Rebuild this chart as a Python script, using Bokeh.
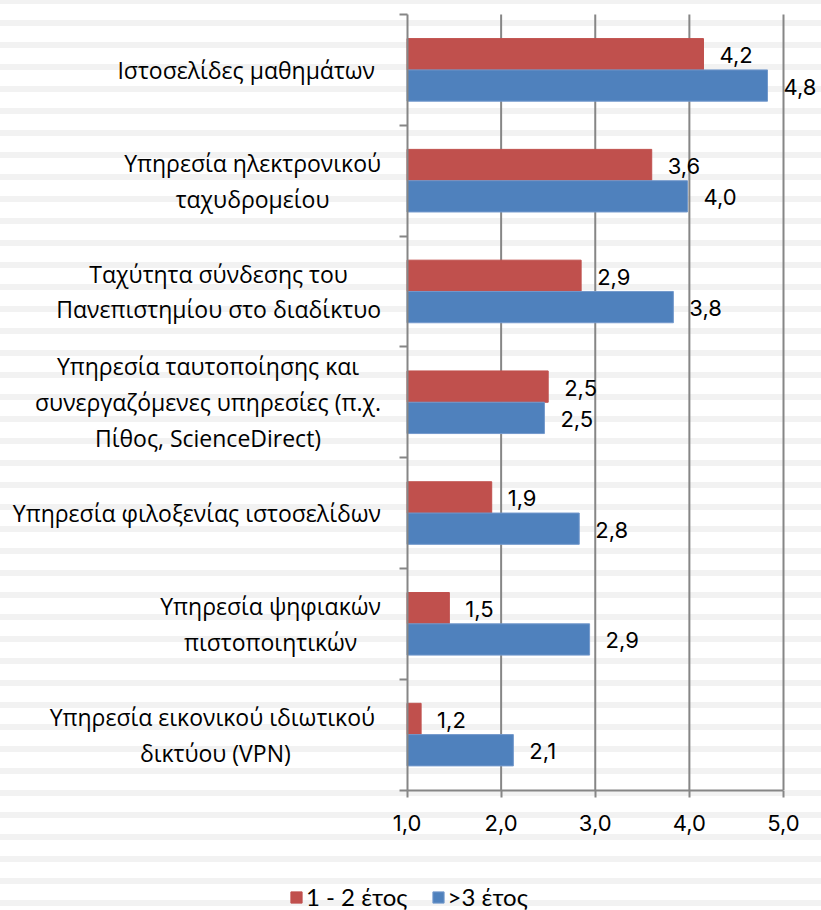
from decimal import Decimal, ROUND_HALF_UP

from bokeh.plotting import figure
from bokeh.models import (Range1d, FixedTicker, LabelSet, Label, ColumnDataSource,
                          Legend, LegendItem)
from bokeh.core.properties import value
from bokeh.transform import dodge
from bokeh.embed import file_html
from bokeh.resources import INLINE

# ---------------- data ----------------
categories = [
    "Ιστοσελίδες μαθημάτων ",
    "Υπηρεσία ηλεκτρονικού\nταχυδρομείου",
    "Ταχύτητα σύνδεσης του\nΠανεπιστημίου στο διαδίκτυο",
    "Υπηρεσία ταυτοποίησης και\nσυνεργαζόμενες υπηρεσίες (π.χ.\nΠίθος, ScienceDirect)",
    "Υπηρεσία φιλοξενίας ιστοσελίδων",
    "Υπηρεσία ψηφιακών\nπιστοποιητικών",
    "Υπηρεσία εικονικού ιδιωτικού \nδικτύου (VPN)",
]
series_names = ["1 - 2 έτος", ">3 έτος"]
values_1_2 = [4.15, 3.60, 2.85, 2.50, 1.90, 1.45, 1.15]
values_3 = [4.83, 3.98, 3.83, 2.46, 2.83, 2.94, 2.13]
x_ticks = [1, 2, 3, 4, 5]
x_tick_labels = ["1,0", "2,0", "3,0", "4,0", "5,0"]
colors = ["#c0504d", "#4f81bd"]


def fmt(v):
    return str(Decimal(str(v)).quantize(Decimal("0.1"), rounding=ROUND_HALF_UP)).replace(".", ",")


n = len(categories)
positions = list(range(1, n + 1))
source = ColumnDataSource(dict(
    pos=positions,
    v1=values_1_2,
    v2=values_3,
    t1=[fmt(v) for v in values_1_2],
    t2=[fmt(v) for v in values_3],
))

LABEL_FONT = "Open Sans"
NUM_FONT = "Inter"
GRAY = "#868686"

W, H = 821, 910
# pixel layout of the value axis / category band inside the canvas
X_LEFT_PX, X_RIGHT_PX = 406.5, 783.0
Y_TOP_PX, Y_BOT_PX = 14.0, 789.5
x_min, x_max = x_ticks[0], x_ticks[-1]
ppx = (X_RIGHT_PX - X_LEFT_PX) / (x_max - x_min)
ppy = (Y_BOT_PX - Y_TOP_PX) / n
x_range = Range1d(x_min - X_LEFT_PX / ppx, x_max + (W - X_RIGHT_PX) / ppx)
y_range = Range1d(n + 0.5 + (H - Y_BOT_PX) / ppy, 0.5 - Y_TOP_PX / ppy)

p = figure(
    width=W, height=H, x_range=x_range, y_range=y_range,
    output_backend="svg", toolbar_location=None,
    min_border=0, min_border_left=0, min_border_right=0,
    min_border_top=0, min_border_bottom=0,
)
p.styles = {
    "background-image": "repeating-linear-gradient(180deg, #f2f2f2 0px, #f2f2f2 4px, "
                        "#ffffff 4px, #ffffff 20px, #f2f2f2 20px, #f2f2f2 22px)",
}
p.background_fill_color = None
p.border_fill_color = None
p.outline_line_color = None
p.xgrid.grid_line_color = None
p.ygrid.grid_line_color = None

# vertical grid lines at the value ticks, spanning the category band
p.segment(x0=x_ticks[1:], x1=x_ticks[1:], y0=0.5, y1=n + 0.5,
          line_color=GRAY, line_width=2)

bar_h = 0.2825
half = bar_h / 2
r1 = p.hbar(y=dodge("pos", -half, range=p.y_range), left=x_min, right="v1", height=bar_h,
            source=source, fill_color=colors[0], line_color=colors[0])
r2 = p.hbar(y=dodge("pos", half, range=p.y_range), left=x_min, right="v2", height=bar_h,
            source=source, fill_color=colors[1], line_color="#7399cc")

# value labels
for col, txt, off in (("v1", "t1", -half), ("v2", "t2", half)):
    ls = LabelSet(x=col, y=dodge("pos", off, range=p.y_range), text=txt, source=source,
                  x_offset=16, y_offset=-1, text_align="left", text_baseline="middle",
                  text_font=value(NUM_FONT), text_font_size=value("22px"),
                  text_color="black")
    p.add_layout(ls)

# category labels: block anchored right of the axis, lines centred
for pos, cat in zip(positions, categories):
    p.add_layout(Label(x=x_min, y=pos, text=cat, x_offset=-26, y_offset=0,
                       anchor="center_right", text_align="center",
                       text_baseline="middle", text_font=LABEL_FONT,
                       text_font_size="23px", text_color="black",
                       text_line_height=1.12))

# x axis, fixed at the bottom of the category band
p.xaxis.fixed_location = n + 0.5
p.xaxis.bounds = (x_min, x_max)
p.xaxis.ticker = FixedTicker(ticks=x_ticks)
p.xaxis.major_label_overrides = {t: l for t, l in zip(x_ticks, x_tick_labels)}
p.xaxis.major_label_text_font = NUM_FONT
p.xaxis.major_label_text_font_size = "22px"
p.xaxis.major_label_text_color = "black"
p.xaxis.major_label_standoff = 18
p.xaxis.axis_line_color = GRAY
p.xaxis.axis_line_width = 2
p.xaxis.major_tick_line_color = GRAY
p.xaxis.major_tick_line_width = 2
p.xaxis.major_tick_out = 7
p.xaxis.major_tick_in = 0
p.xaxis.minor_tick_line_color = None

# y axis at x = 1, tick marks at the category boundaries
p.yaxis.fixed_location = x_min
p.yaxis.bounds = (0.5, n + 0.5)
p.yaxis.ticker = FixedTicker(ticks=positions,
                             minor_ticks=[i + 0.5 for i in range(n + 1)])
p.yaxis.major_label_text_color = None
p.yaxis.axis_line_color = GRAY
p.yaxis.axis_line_width = 2
p.yaxis.major_tick_line_color = None
p.yaxis.major_tick_out = 0
p.yaxis.major_tick_in = 0
p.yaxis.minor_tick_line_color = GRAY
p.yaxis.minor_tick_line_width = 2
p.yaxis.minor_tick_out = 8
p.yaxis.minor_tick_in = 0

legend = Legend(
    items=[LegendItem(label=series_names[0], renderers=[r1]),
           LegendItem(label=series_names[1], renderers=[r2])],
    orientation="horizontal", location=(289, -1),
    glyph_width=14, glyph_height=14, label_standoff=3, spacing=23,
    padding=0, margin=0, border_line_color=None, background_fill_alpha=0,
    label_text_font="Lato", label_text_font_size="24px", label_text_color="black",
)
p.add_layout(legend)

open("out.html", "w").write(file_html(p, INLINE))
